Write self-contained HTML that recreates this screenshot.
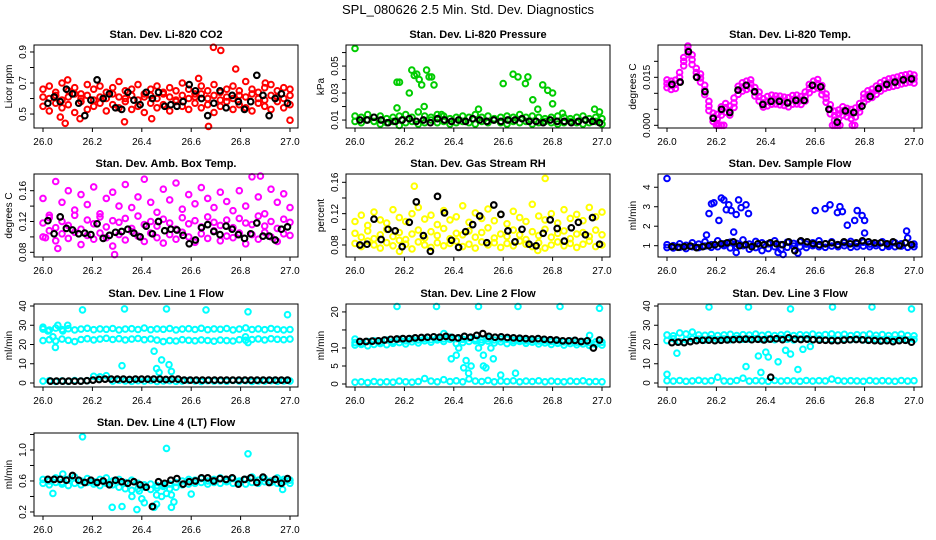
<!DOCTYPE html>
<html><head><meta charset="utf-8">
<style>
html,body{margin:0;padding:0;background:#fff;}
svg{display:block;font-family:"Liberation Sans",Arial,sans-serif;}
</style></head>
<body>
<svg id="chart" width="936" height="540" viewBox="0 0 936 540" xmlns="http://www.w3.org/2000/svg">
<rect x="0" y="0" width="936" height="540" fill="#fff"/>
<text x="468" y="14" text-anchor="middle" font-size="13">SPL_080626  2.5 Min. Std. Dev. Diagnostics</text>
</svg>
<script>
// ---------- DATA ----------
const xTicks = [26.0, 26.2, 26.4, 26.6, 26.8, 27.0];
const xTickLabels = ["26.0", "26.2", "26.4", "26.6", "26.8", "27.0"];

// Panel 1 CO2
const co2RedHi = [0.66,0.68,0.64,0.70,0.65,0.67,0.63,0.69,0.66,0.68,0.64,0.67,0.71,0.65,0.66,0.69,0.63,0.66,0.68,0.64,0.67,0.65,0.70,0.66,0.63,0.68,0.65,0.69,0.64,0.66,0.68,0.65,0.71,0.66,0.64,0.67,0.69,0.65,0.67,0.66];
const co2RedMid = [0.61,0.60,0.62,0.59,0.61,0.63,0.60,0.62,0.59,0.61,0.60,0.63,0.61,0.60,0.62,0.59,0.61,0.62,0.60,0.63,0.61,0.59,0.62,0.60,0.61,0.63,0.60,0.62,0.59,0.61,0.60,0.62,0.61,0.63,0.60,0.59,0.62,0.61,0.60,0.62];
const co2RedLo = [0.55,0.52,0.57,0.54,0.56,0.51,0.58,0.53,0.55,0.57,0.52,0.56,0.54,0.58,0.53,0.55,0.51,0.57,0.54,0.56,0.52,0.58,0.55,0.53,0.57,0.54,0.56,0.51,0.55,0.58,0.53,0.56,0.54,0.52,0.57,0.55,0.53,0.58,0.54,0.56];
const co2OutX = [26.09,26.10,26.07,26.15,26.33,26.44,26.69,26.72,26.78,26.67,26.90,27.00,26.63];
const co2OutY = [0.44,0.72,0.48,0.47,0.45,0.47,0.93,0.91,0.79,0.42,0.70,0.46,0.73];
const co2Black = [0.57,0.61,0.58,0.66,0.63,0.57,0.49,0.59,0.72,0.60,0.63,0.54,0.53,0.64,0.59,0.56,0.64,0.60,0.64,0.55,0.56,0.55,0.58,0.69,0.65,0.60,0.49,0.57,0.65,0.54,0.62,0.58,0.53,0.58,0.75,0.62,0.49,0.60,0.63,0.57];

// Panel 2 Pressure
const presHi = [0.013,0.012,0.014,0.012,0.013,0.011,0.012,0.013,0.014,0.012,0.016,0.013,0.012,0.014,0.013,0.011,0.012,0.013,0.012,0.014,0.012,0.013,0.011,0.012,0.013,0.012,0.014,0.012,0.013,0.012,0.011,0.012,0.013,0.012,0.011,0.012,0.013,0.011,0.012,0.011];
const presLo = [0.009,0.008,0.010,0.009,0.007,0.008,0.009,0.006,0.008,0.009,0.007,0.008,0.010,0.008,0.009,0.007,0.008,0.009,0.008,0.007,0.009,0.008,0.010,0.008,0.007,0.009,0.008,0.009,0.007,0.008,0.009,0.008,0.007,0.008,0.009,0.008,0.007,0.008,0.009,0.007];
const presOutX = [26.0,26.17,26.18,26.22,26.23,26.24,26.25,26.26,26.27,26.28,26.29,26.30,26.31,26.32,26.17,26.35,26.50,26.60,26.64,26.66,26.69,26.70,26.72,26.76,26.78,26.80,26.80,26.74,26.84,26.97,26.99];
const presOutY = [0.063,0.038,0.038,0.030,0.047,0.043,0.044,0.040,0.036,0.020,0.047,0.042,0.042,0.036,0.019,0.014,0.018,0.037,0.044,0.042,0.037,0.042,0.025,0.036,0.032,0.030,0.022,0.018,0.015,0.018,0.016];
const presBlack = [0.010,0.010,0.012,0.010,0.008,0.009,0.010,0.011,0.009,0.010,0.008,0.011,0.010,0.009,0.010,0.009,0.011,0.010,0.009,0.010,0.009,0.010,0.010,0.011,0.009,0.009,0.008,0.010,0.009,0.009,0.008,0.009,0.010,0.009,0.008];

// Panel 3 Temp
const tempMid = [.0130,.0125,.0128,.0150,.0200,.0235,.0205,.0165,.0148,.0110,.0060,.0025,.0020,.0045,.0055,.0045,.0070,.0110,.0120,.0125,.0130,.0105,.0090,.0070,.0075,.0080,.0080,.0078,.0075,.0072,.0080,.0080,.0078,.0090,.0115,.0125,.0130,.0110,.0085,.0050,.0030,.0035,.0045,.0040,.0035,.0040,.0055,.0085,.0095,.0100,.0110,.0120,.0128,.0132,.0135,.0138,.0142,.0145,.0148,.0145];
const tempHi = [.0142,.0138,.0141,.0165,.0212,.0248,.0220,.0178,.0160,.0125,.0075,.0038,.0034,.0058,.0068,.0060,.0085,.0122,.0133,.0138,.0142,.0118,.0104,.0083,.0090,.0094,.0092,.0091,.0088,.0086,.0093,.0094,.0090,.0104,.0128,.0138,.0143,.0124,.0098,.0064,.0044,.0048,.0058,.0053,.0049,.0054,.0068,.0098,.0108,.0113,.0123,.0133,.0140,.0145,.0148,.0151,.0155,.0158,.0160,.0157];
const tempLo = [.0118,.0112,.0115,.0136,.0186,.0222,.0190,.0152,.0135,.0096,.0046,.0012,.0006,.0032,.0041,.0032,.0056,.0097,.0107,.0112,.0117,.0092,.0076,.0057,.0061,.0066,.0067,.0064,.0062,.0058,.0066,.0067,.0065,.0076,.0102,.0112,.0117,.0096,.0072,.0036,.0016,.0021,.0032,.0027,.0021,.0026,.0042,.0072,.0082,.0087,.0097,.0107,.0115,.0119,.0122,.0125,.0129,.0132,.0135,.0132];
const tempOutX = [26.20,26.21,26.22,26.23,26.67,26.68,26.69,26.70,26.75,26.76];
const tempOutY = [0,0,0,0,0,0,0,0,0,0];
const tempBlack = [.0128,.0135,.0230,.0150,.0105,.0022,.0050,.0040,.0110,.0125,.0105,.0065,.0075,.0075,.0070,.0078,.0078,.0125,.0120,.0050,.0010,.0045,.0040,.0060,.0090,.0115,.0128,.0135,.0142,.0145];

// Panel 4 Amb box temp
const ambA = [.150,.128,.172,.145,.160,.135,.155,.142,.165,.130,.150,.158,.140,.168,.138,.152,.175,.145,.132,.162,.148,.170,.136,.155,.143,.164,.150,.138,.158,.146,.134,.160,.140,.178,.152,.130,.162,.145,.156,.138];
const ambB = [.118,.125,.112,.120,.115,.128,.110,.122,.117,.126,.113,.121,.119,.124,.111,.127,.116,.120,.114,.123,.118,.110,.125,.117,.121,.113,.126,.119,.115,.122,.112,.124,.118,.116,.127,.114,.120,.111,.123,.119];
const ambC = [.100,.108,.095,.104,.098,.106,.090,.102,.097,.105,.099,.088,.103,.096,.107,.101,.094,.105,.099,.092,.103,.097,.106,.100,.093,.104,.098,.108,.095,.101,.099,.105,.091,.103,.097,.106,.100,.094,.104,.102];
const ambOutX = [26.06,26.29,26.88,26.01];
const ambOutY = [.085,.077,.179,.099];
const ambBlack = [.121,.104,.126,.111,.109,.104,.105,.103,.117,.098,.102,.106,.107,.110,.105,.100,.114,.104,.120,.108,.110,.109,.102,.091,.096,.112,.116,.107,.103,.114,.110,.103,.098,.104,.118,.101,.101,.096,.110,.113];

// Panel 5 RH
const rhA = [.110,.118,.105,.122,.112,.108,.125,.115,.110,.120,.128,.113,.118,.106,.124,.112,.116,.130,.109,.121,.114,.126,.111,.119,.107,.123,.115,.110,.132,.117,.112,.120,.108,.125,.114,.119,.111,.128,.116,.122];
const rhB = [.095,.090,.098,.088,.093,.100,.091,.096,.087,.094,.099,.089,.097,.092,.101,.088,.095,.093,.098,.090,.096,.102,.089,.094,.091,.099,.093,.087,.097,.092,.100,.090,.095,.098,.088,.094,.096,.091,.099,.093];
const rhC = [.082,.078,.085,.080,.076,.083,.079,.086,.081,.075,.084,.080,.077,.083,.079,.082,.085,.078,.081,.076,.084,.080,.083,.077,.082,.079,.085,.081,.078,.083,.076,.080,.084,.079,.082,.077,.081,.085,.078,.080];
const rhOutX = [26.24,26.77,26.74,26.18];
const rhOutY = [.155,.165,.073,.072];
const rhBlack = [.080,.081,.113,.087,.100,.098,.078,.109,.135,.092,.072,.142,.121,.086,.077,.097,.106,.117,.083,.131,.119,.098,.084,.100,.081,.079,.095,.112,.101,.085,.102,.109,.093,.115,.081];

// Panel 6 Sample flow
const sfA = [1.05,1.00,1.10,1.02,1.15,1.08,1.20,1.05,1.25,1.10,1.18,1.12,1.30,1.08,1.22,1.15,1.10,1.25,1.05,1.18,1.12,1.20,1.08,1.15,1.25,1.10,1.20,1.05,1.15,1.22,1.10,1.18,1.08,1.12,1.20,1.05,1.15,1.10,1.40,1.08];
const sfB = [0.90,0.88,0.92,0.85,0.95,0.90,0.98,0.92,0.95,1.00,0.88,0.95,1.00,0.82,0.90,0.75,0.85,0.95,0.80,0.92,0.98,0.95,0.90,1.00,0.95,0.92,0.98,0.95,1.00,0.92,0.95,0.98,0.95,1.00,0.92,0.96,0.95,0.98,0.92,0.95];
const sfOutX = [26.0,26.17,26.18,26.19,26.21,26.22,26.23,26.24,26.25,26.26,26.27,26.28,26.29,26.30,26.32,26.33,26.60,26.64,26.66,26.69,26.70,26.71,26.73,26.76,26.77,26.79,26.80,26.80,26.97,26.16,26.28,26.45,26.47,26.53];
const sfOutY = [4.45,2.65,3.15,3.2,2.3,3.45,3.35,2.85,3.1,2.8,1.7,2.6,3.35,2.95,3.1,2.65,2.8,2.9,3.1,2.7,3.0,2.75,2.05,2.3,2.8,2.55,2.3,1.65,1.75,1.55,0.65,0.65,0.55,0.62];
const sfBlack = [0.95,0.92,0.95,0.98,0.90,0.95,1.0,1.05,1.10,1.15,1.20,1.0,1.05,0.95,1.10,1.05,1.15,1.1,1.05,1.2,0.75,1.25,1.2,1.1,1.05,1.1,1.15,1.05,1.2,1.1,1.15,1.25,1.2,1.15,1.15,1.1,1.2,1.0,1.15,1.05];

// Panel 7 Line 1
const l1Top = [28,27.5,28.5,27.8,28.2,27.6,28,28.4,27.7,28.1,27.9,28.3,27.6,28,28.2,27.8,28.5,27.7,28.1,27.9,28.3,27.6,28,28.2,27.8,28.4,27.7,28.1,27.9,28.3,27.6,28,28.6,27.8,28.1,27.7,28.3,27.9,27.6,27.8];
const l1Mid = [22,22.5,21.8,22.8,22.2,21.5,22.6,23,22.4,22.8,23.2,22.6,23,22.4,22.8,23.1,22.5,22.9,22.3,21.5,22,21.8,22.5,22.2,21.9,22.4,22.1,21.7,22.3,22,21.8,22.5,22.2,22.6,22.9,22.4,23,22.7,22.5,22.8];
const l1Low = [1,1.2,0.8,1.1,0.9,1.3,1.0,1.2,3.5,3.2,3.8,1.0,1.4,1.1,0.9,1.2,1.0,1.3,0.8,1.1,1.2,0.9,1.0,1.3,1.1,0.8,1.2,1.0,1.1,0.9,1.3,1.0,1.2,0.8,1.1,1.0,1.2,0.9,1.1,1.0];
const l1OutX = [26.0,26.02,26.04,26.05,26.06,26.08,26.10,26.16,26.33,26.50,26.66,26.83,26.99,26.32,26.45,26.46,26.47,26.48,26.51,26.52,26.82,26.83];
const l1OutY = [29,27,24,18.5,30,27,30,38,38.5,38.5,38,37,35.5,9,16.5,7.5,5.5,12,9.5,6,24,21];
const l1Black = [1,1,1,1,1,1,1.2,1.5,1.8,2,2,2,2,1.8,2,2,2,2,2,1.8,2,2,1.5,1.5,1.5,1.5,1.5,1.5,1.5,1.5,1.5,1.5,1.5,1.5,1.5,1.5,1.5,1.5,1.5,1.5];

// Panel 8 Line 2
const l2Cy1 = [11.5,11,11.8,12,11.6,12.2,11.8,12.4,12,12.5,12.2,12.6,12.3,12.8,12.5,13,12.6,12.4,12.8,12.5,12.3,12.6,12.2,12.5,12.4,12.1,12.3,12,12.2,11.9,12.1,11.8,12,11.7,11.9,11.6,11.8,11.5,11.7,11.6];
const l2Cy2 = [10.8,11.2,10.6,11,11.2,10.9,11.3,11.5,11.1,11.7,11.4,12,11.6,12.2,11.8,12.4,11.2,11.5,11.8,12,11.6,11.9,11.4,11.7,11.2,11.5,11.8,11.3,11.6,11.1,11.4,11,11.3,10.8,11.2,10.9,11.1,10.7,11,10.8];
const l2Low = [0.5,0.6,0.4,0.7,0.5,0.6,0.5,0.8,0.6,0.5,0.7,1.5,0.8,0.6,1.2,0.7,0.9,0.6,1.4,0.8,0.7,1.0,0.6,0.8,0.7,0.9,0.6,0.8,0.7,0.9,0.6,0.8,0.7,0.6,0.8,0.7,0.9,0.6,0.7,0.6];
const l2OutX = [26.17,26.33,26.50,26.66,26.83,26.99,26.36,26.39,26.41,26.42,26.44,26.45,26.46,26.47,26.50,26.51,26.52,26.52,26.53,26.55,26.56,26.59,26.65,26.95,26.0];
const l2OutY = [21.5,21.5,21.5,21.5,21.5,21,14,7,8,10,4.5,6.5,3,5,10,11.5,8,5,4.5,10,7,2.5,3,13.5,12.5];
const l2Black = [11.8,11.8,11.9,12,12.2,12.4,12.5,12.6,12.6,12.8,12.9,13,13.1,13,13.2,12.9,12.8,13.2,13,13.5,14,13.2,13,13.1,12.9,12.8,12.7,12.6,12.5,12.6,12.4,12.3,12.2,12,12,12.1,11.8,12,10,12.2];

// Panel 9 Line 3
const l3Top = [25,24.5,26,25.5,26.5,25,24.8,25.2,24.6,25,25.3,24.7,25.1,24.9,25.4,24.8,25.2,24.6,25,25.3,24.7,25.1,24.9,25.4,24.8,25.2,25.5,25,25.3,24.7,25.1,24.9,25.4,24.8,25.2,24.6,25,25.3,24.7,24.5];
const l3Mid = [22,23,21.5,22.5,23,22.8,22.4,23,22.6,22.9,22.5,23.1,22.7,22.8,23,22.6,22.9,22.5,23.1,22.7,22.4,22.8,23,22.6,22.9,22.5,22.7,22.3,22.8,22.5,22.9,22.4,22.6,22.8,22.3,22.7,22.5,22.8,22.4,22.6];
const l3Low = [1.2,1.0,1.3,0.9,1.1,1.4,1.0,1.2,3,1.1,0.9,1.3,2.5,1.0,1.2,1.1,0.9,1.3,1.0,1.2,1.1,0.9,1.3,1.0,1.2,1.1,2,1.3,1.0,1.2,1.1,0.9,1.3,1.0,1.2,1.1,0.9,1.3,1.0,1.2];
const l3OutX = [26.0,26.04,26.17,26.33,26.50,26.67,26.83,26.99,26.32,26.37,26.38,26.40,26.41,26.45,26.48,26.50,26.53,26.55,26.58];
const l3OutY = [4.5,15.5,39.5,39.5,38.5,39.5,39.5,38.5,8.5,14,5.5,16,13.5,11,17,15,7,17.5,19];
const l3Black = [21,21.2,21,21.5,22,22.2,22.3,22,22.2,22.4,22.5,22.6,22.8,22.5,22.7,22.4,22.8,23,22.5,23.5,22.8,22.6,22.8,22.5,22.3,22.2,22,22,22.3,22.5,22.6,22.4,22.2,22,21.8,22,21.5,22,22.2,21.2];
const l3BlackOutX = [26.42];
const l3BlackOutY = [3];

// Panel 10 Line 4
const l4A = [.62,.60,.64,.58,.62,.65,.60,.63,.59,.62,.64,.60,.62,.58,.61,.57,.55,.56,.54,.55,.56,.58,.60,.62,.61,.63,.60,.62,.64,.61,.63,.60,.62,.65,.61,.63,.60,.64,.62,.61];
const l4B = [.57,.55,.58,.56,.54,.57,.55,.58,.56,.54,.57,.55,.52,.50,.48,.50,.52,.49,.51,.53,.50,.52,.55,.56,.57,.58,.56,.58,.57,.59,.57,.58,.56,.58,.57,.59,.58,.57,.59,.57];
const l4OutX = [26.04,26.08,26.16,26.28,26.32,26.36,26.38,26.39,26.40,26.41,26.45,26.46,26.46,26.48,26.50,26.50,26.52,26.52,26.53,26.60,26.83,26.97];
const l4OutY = [.44,.69,1.17,.26,.27,.40,.23,.47,.37,.32,.26,.30,.42,.40,1.02,.44,.42,.26,.33,.43,.95,.49];
const l4Black = [.62,.62,.62,.61,.67,.61,.58,.61,.58,.60,.55,.61,.59,.57,.59,.55,.52,.27,.59,.57,.61,.63,.56,.59,.60,.64,.64,.60,.63,.62,.64,.56,.62,.64,.58,.65,.58,.62,.57,.63];

// ---------- RENDER ----------
const NS = "http://www.w3.org/2000/svg";
const svg = document.getElementById("chart");
const colLeft = [34, 346, 658];
const rowTop = [45, 174, 304, 433];
const boxW = 264, boxH = 83;

function mk(tag, attrs, parent) {
  const e = document.createElementNS(NS, tag);
  for (const k in attrs) e.setAttribute(k, attrs[k]);
  (parent || svg).appendChild(e);
  return e;
}

function evenX(n, a, b) {
  const out = [];
  for (let i = 0; i < n; i++) out.push(a + (b - a) * i / (n - 1));
  return out;
}

function panel(cfg) {
  const L = colLeft[cfg.col], T = rowTop[cfg.row];
  const g = mk("g", {});
  
  
  const xs = v => L + 9 + (v - 26) * 247;
  const ys = v => T + boxH - (v - cfg.ymin) / (cfg.ymax - cfg.ymin) * boxH;
  const t = mk("text", {x: L + boxW / 2, y: T - 7, "text-anchor": "middle", "font-size": "11", "font-weight": "bold"}, g);
  t.textContent = cfg.title;
  
  
  cfg.series.forEach(s => {
    const sg = mk("g", {fill: "none", stroke: s.color, "stroke-width": s.black ? "2.1" : "2"}, g);
    
    
    const xv = s.x || evenX(s.y.length, s.x0 !== undefined ? s.x0 : 26.0, s.x1 !== undefined ? s.x1 : 27.0);
    s.y.forEach((v, i) => {
      const c = mk("circle", {cx: xs(xv[i]).toFixed(1), cy: ys(v).toFixed(1), r: "2.8"}, sg);
      
      
    });
  });
  const b = mk("rect", {x: L, y: T, width: boxW, height: boxH, fill: "none", stroke: "#000", "stroke-width": "1"}, g);
  
  
  xTicks.forEach((v, i) => {
    mk("line", {x1: xs(v), x2: xs(v), y1: T + boxH, y2: T + boxH + 4, stroke: "#000"}, g);
    const tx = mk("text", {x: xs(v), y: T + boxH + 17, "text-anchor": "middle", "font-size": "10"}, g);
    tx.textContent = xTickLabels[i];
    
    
  });
  cfg.yticks.forEach(v => {
    mk("line", {x1: L - 4, x2: L, y1: ys(v), y2: ys(v), stroke: "#000"}, g);
  });
  cfg.ylabels.forEach((lab, i) => {
    const yy = ys(cfg.ylabelVals[i]);
    const ty = mk("text", {x: 0, y: 0, "text-anchor": "middle", "font-size": "10", transform: `translate(${L - 8},${yy}) rotate(-90)`}, g);
    ty.textContent = lab;
    
    
  });
  const yt = mk("text", {x: 0, y: 0, "text-anchor": "middle", "font-size": "10", transform: `translate(${L - 22},${T + boxH / 2}) rotate(-90)`}, g);
  yt.textContent = cfg.ytitle;
  
  
}

const RED = "#ff0000", GRN = "#00cc00", MAG = "#ff00ff", YEL = "#ffff00", BLU = "#0000ff", CYN = "#00ffff", BLK = "#000";

panel({name: "panel-co2", col: 0, row: 0, title: "Stan. Dev. Li-820 CO2", ytitle: "Licor ppm", ymin: 0.41, ymax: 0.945,
  yticks: [0.5,0.6,0.7,0.8,0.9], ylabels: ["0.5","0.7","0.9"], ylabelVals: [0.5,0.7,0.9],
  series: [{y: co2RedLo, color: RED}, {y: co2RedMid, color: RED}, {y: co2RedHi, color: RED}, {x: co2OutX, y: co2OutY, color: RED},
           {y: co2Black, color: BLK, black: true, x0: 26.02, x1: 26.99}]});
panel({name: "panel-pressure", col: 1, row: 0, title: "Stan. Dev. Li-820 Pressure", ytitle: "kPa", ymin: 0.0041, ymax: 0.0656,
  yticks: [0.01,0.02,0.03,0.04,0.05,0.06], ylabels: ["0.01","0.03","0.05"], ylabelVals: [0.01,0.03,0.05],
  series: [{y: presHi, color: GRN}, {y: presLo, color: GRN}, {x: presOutX, y: presOutY, color: GRN},
           {y: presBlack, color: BLK, black: true, x0: 26.02, x1: 26.99}]});
panel({name: "panel-temp", col: 2, row: 0, title: "Stan. Dev. Li-820 Temp.", ytitle: "degrees C", ymin: -0.00084, ymax: 0.0251,
  yticks: [0,0.005,0.01,0.015,0.02], ylabels: ["0.000","0.015"], ylabelVals: [0,0.015],
  series: [{y: tempHi, color: MAG}, {y: tempMid, color: MAG}, {y: tempLo, color: MAG}, {x: tempOutX, y: tempOutY, color: MAG},
           {y: tempBlack, color: BLK, black: true, x0: 26.02, x1: 26.99}]});
panel({name: "panel-amb-box-temp", col: 0, row: 1, title: "Stan. Dev. Amb. Box Temp.", ytitle: "degrees C", ymin: 0.0739, ymax: 0.1817,
  yticks: [0.08,0.10,0.12,0.14,0.16], ylabels: ["0.08","0.12","0.16"], ylabelVals: [0.08,0.12,0.16],
  series: [{y: ambA, color: MAG}, {y: ambB, color: MAG}, {y: ambC, color: MAG}, {x: ambOutX, y: ambOutY, color: MAG},
           {y: ambBlack, color: BLK, black: true, x0: 26.02, x1: 26.99}]});
panel({name: "panel-gas-rh", col: 1, row: 1, title: "Stan. Dev. Gas Stream RH", ytitle: "percent", ymin: 0.0647, ymax: 0.1706,
  yticks: [0.08,0.10,0.12,0.14,0.16], ylabels: ["0.08","0.12","0.16"], ylabelVals: [0.08,0.12,0.16],
  series: [{y: rhA, color: YEL}, {y: rhB, color: YEL}, {y: rhC, color: YEL}, {x: rhOutX, y: rhOutY, color: YEL},
           {y: rhBlack, color: BLK, black: true, x0: 26.02, x1: 26.99}]});
panel({name: "panel-sample-flow", col: 2, row: 1, title: "Stan. Dev. Sample Flow", ytitle: "ml/min", ymin: 0.42, ymax: 4.68,
  yticks: [1,2,3,4], ylabels: ["1","2","3","4"], ylabelVals: [1,2,3,4],
  series: [{y: sfA, color: BLU}, {y: sfB, color: BLU}, {x: sfOutX, y: sfOutY, color: BLU},
           {y: sfBlack, color: BLK, black: true, x0: 26.02, x1: 26.99}]});
panel({name: "panel-line1-flow", col: 0, row: 2, title: "Stan. Dev. Line 1 Flow", ytitle: "ml/min", ymin: -2.08, ymax: 41.04,
  yticks: [0,10,20,30,40], ylabels: ["0","10","20","30","40"], ylabelVals: [0,10,20,30,40],
  series: [{y: l1Top, color: CYN}, {y: l1Mid, color: CYN}, {y: l1Low, color: CYN}, {x: l1OutX, y: l1OutY, color: CYN},
           {y: l1Black, color: BLK, black: true, x0: 26.03, x1: 26.99}]});
panel({name: "panel-line2-flow", col: 1, row: 2, title: "Stan. Dev. Line 2 Flow", ytitle: "ml/min", ymin: -0.83, ymax: 22.2,
  yticks: [0,5,10,15,20], ylabels: ["0","5","10","20"], ylabelVals: [0,5,10,20],
  series: [{y: l2Cy1, color: CYN}, {y: l2Cy2, color: CYN}, {y: l2Low, color: CYN}, {x: l2OutX, y: l2OutY, color: CYN},
           {y: l2Black, color: BLK, black: true, x0: 26.02, x1: 26.99}]});
panel({name: "panel-line3-flow", col: 2, row: 2, title: "Stan. Dev. Line 3 Flow", ytitle: "ml/min", ymin: -2.08, ymax: 41.04,
  yticks: [0,10,20,30,40], ylabels: ["0","10","20","30","40"], ylabelVals: [0,10,20,30,40],
  series: [{y: l3Top, color: CYN}, {y: l3Mid, color: CYN}, {y: l3Low, color: CYN}, {x: l3OutX, y: l3OutY, color: CYN},
           {y: l3Black, color: BLK, black: true, x0: 26.02, x1: 26.99}, {x: l3BlackOutX, y: l3BlackOutY, color: BLK, black: true}]});
panel({name: "panel-line4-flow", col: 0, row: 3, title: "Stan. Dev. Line 4 (LT) Flow", ytitle: "ml/min", ymin: 0.148, ymax: 1.219,
  yticks: [0.2,0.4,0.6,0.8,1.0,1.2], ylabels: ["0.2","0.6","1.0"], ylabelVals: [0.2,0.6,1.0],
  series: [{y: l4A, color: CYN}, {y: l4B, color: CYN}, {x: l4OutX, y: l4OutY, color: CYN},
           {y: l4Black, color: BLK, black: true, x0: 26.02, x1: 26.99}]});
</script>
</body></html>
